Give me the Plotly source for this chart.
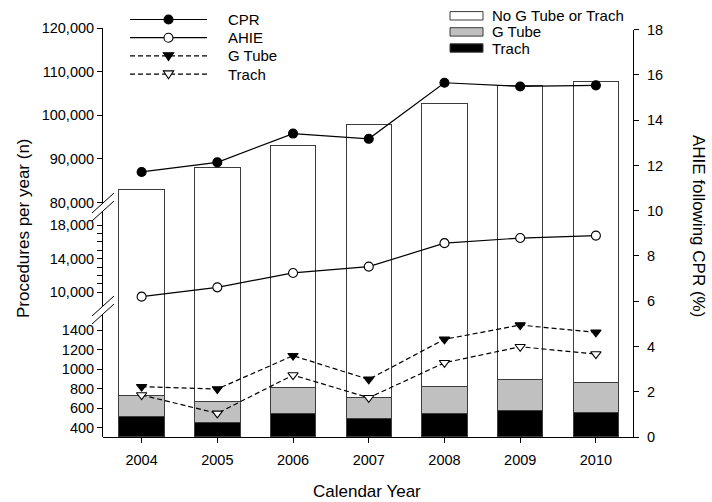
import plotly.graph_objects as go

# ---------------- data ----------------
years = [2004, 2005, 2006, 2007, 2008, 2009, 2010]

# procedures per year (left, broken axis)
cpr_n = [87000, 89200, 95800, 94600, 107450, 106600, 106850]
ahie_n = [9480, 10590, 12300, 13050, 15840, 16450, 16740]
g_tube_n = [820, 796, 1137, 895, 1305, 1451, 1376]
trach_n = [735, 547, 939, 707, 1065, 1229, 1154]

# AHIE following CPR (%) split by procedure (right axis, stacked bars)
trach_pct = [0.89, 0.66, 1.02, 0.80, 1.02, 1.17, 1.08]
g_tube_pct = [0.93, 0.89, 1.17, 0.96, 1.19, 1.38, 1.34]
ahie_pct = [10.96, 11.90, 12.88, 13.82, 14.72, 15.53, 15.69]
no_tube_pct = [round(a - t - g, 2) for a, t, g in zip(ahie_pct, trach_pct, g_tube_pct)]

# tick values for each piece of the broken left axis
top_ticks = [80000, 90000, 100000, 110000, 120000]
mid_ticks = [10000, 14000, 18000]
mid_minor = [11000, 12000, 13000, 15000, 16000, 17000]
low_ticks = [400, 600, 800, 1000, 1200, 1400]
right_ticks = [0, 2, 4, 6, 8, 10, 12, 14, 16, 18]

# ---------------- layout geometry (pixels) ----------------
W, H = 712, 502
PL, PR, PT, PB = 103, 633, 28, 437
FONT = "Arial, 'Liberation Sans', sans-serif"


def fx(px):
    return (px - PL) / (PR - PL)


def fy(py):
    return (PB - py) / (PB - PT)


top_dom = [fy(203), 1.0]
mid_dom = [fy(306), fy(211)]
low_dom = [0.0, fy(314)]
right_dom = [0.0, fy(29.7)]

# ---------------- styles ----------------
bar_styles = {
    "Trach": "#000000",
    "G Tube": "#c0c0c0",
    "No G Tube or Trach": "#ffffff",
}
BAR_EDGE = "#3c3c3c"

line_styles = {
    "CPR": dict(dash="solid", symbol="circle", fill="black"),
    "AHIE": dict(dash="solid", symbol="circle", fill="white"),
    "G Tube": dict(dash="5px,3px", symbol="triangle-down", fill="black"),
    "Trach": dict(dash="5px,3px", symbol="triangle-down", fill="white"),
}

fig = go.Figure()

# stacked percentage bars on the right axis
for name, vals in [("Trach", trach_pct), ("G Tube", g_tube_pct),
                   ("No G Tube or Trach", no_tube_pct)]:
    fig.add_trace(go.Bar(
        x=years, y=vals, name=name, width=0.6, xaxis="x", yaxis="y",
        marker=dict(color=bar_styles[name], line=dict(color=BAR_EDGE, width=1)),
        showlegend=False,
    ))

# count lines on the broken left axis
for name, vals, ax in [("G Tube", g_tube_n, "y2"), ("Trach", trach_n, "y2"),
                       ("AHIE", ahie_n, "y3"), ("CPR", cpr_n, "y4")]:
    st = line_styles[name]
    fig.add_trace(go.Scatter(
        x=years, y=vals, name=name, mode="lines+markers", xaxis="x", yaxis=ax,
        line=dict(color="black", width=1.2, dash=st["dash"]),
        marker=dict(symbol=st["symbol"], size=9, color=st["fill"],
                    line=dict(color="black", width=1.1)),
        showlegend=False,
    ))

axis_common = dict(
    showline=True, linecolor="black", linewidth=1,
    ticks="outside", ticklen=5, tickwidth=1, tickcolor="black",
    showgrid=False, zeroline=False,
    tickfont=dict(family=FONT, size=14.5, color="black"),
)

fig.update_layout(
    width=W, height=H,
    margin=dict(l=PL, r=W - PR, t=PT, b=H - PB, autoexpand=False),
    paper_bgcolor="white", plot_bgcolor="rgba(0,0,0,0)",
    barmode="stack", showlegend=False,
    font=dict(family=FONT, color="black"),
    xaxis=dict(domain=[0, 1], range=[2003.49, 2010.49], anchor="y",
               tickvals=years, ticklabelstandoff=5, **axis_common),
    yaxis=dict(domain=right_dom, range=[0, 18], side="right", anchor="x",
               tickvals=right_ticks, ticklabelstandoff=5, **axis_common),
    yaxis2=dict(domain=low_dom, range=[305, 1564], side="left", anchor="x",
                tickvals=low_ticks, tickformat="d", **axis_common),
    yaxis3=dict(domain=mid_dom, range=[8371, 19664], side="left", anchor="x",
                tickvals=mid_ticks, tickformat=",",
                minor=dict(tickvals=mid_minor, ticks="outside", ticklen=5,
                           tickcolor="black", showgrid=False),
                **axis_common),
    yaxis4=dict(domain=top_dom, range=[79885, 120000], side="left", anchor="x",
                tickvals=top_ticks, tickformat=",", **axis_common),
)

shapes = []
annotations = []

# axis-break marks on the left axis
for y_hi, y_lo in [(203, 211), (306, 314)]:
    for yc in (y_hi, y_lo):
        shapes.append(dict(type="line", xref="paper", yref="paper",
                           x0=fx(92), y0=fy(yc + 10), x1=fx(114), y1=fy(yc - 10),
                           line=dict(color="black", width=1)))

# legend for the count lines
LX0, LX1, LMK, LTX = 130, 207, 168.5, 226
for i, name in enumerate(["CPR", "AHIE", "G Tube", "Trach"]):
    st = line_styles[name]
    yc = 19.5 + 18.2 * i
    shapes.append(dict(type="line", xref="paper", yref="paper",
                       x0=fx(LX0), x1=fx(LX1), y0=fy(yc), y1=fy(yc),
                       line=dict(color="black", width=1.2, dash=st["dash"])))
    if st["symbol"] == "circle":
        r = 4.5
        shapes.append(dict(type="circle", xref="paper", yref="paper",
                           x0=fx(LMK - r), x1=fx(LMK + r), y0=fy(yc + r), y1=fy(yc - r),
                           fillcolor=st["fill"], line=dict(color="black", width=1.1)))
    else:
        path = (f"M {fx(LMK - 5.2)},{fy(yc - 3.2)} L {fx(LMK + 5.2)},{fy(yc - 3.2)} "
                f"L {fx(LMK)},{fy(yc + 4.6)} Z")
        shapes.append(dict(type="path", xref="paper", yref="paper", path=path,
                           fillcolor=st["fill"], line=dict(color="black", width=1.1)))
    annotations.append(dict(text=name, x=fx(LTX), y=fy(yc), xref="paper", yref="paper",
                            xanchor="left", yanchor="middle", showarrow=False,
                            font=dict(family=FONT, size=15, color="black")))

# legend for the stacked bars
BX0, BX1, BTX = 450, 483, 490
for i, name in enumerate(["No G Tube or Trach", "G Tube", "Trach"]):
    yc = 15.8 + 16.1 * i
    shapes.append(dict(type="rect", xref="paper", yref="paper",
                       x0=fx(BX0), x1=fx(BX1), y0=fy(yc + 4.2), y1=fy(yc - 4.2),
                       fillcolor=bar_styles[name], line=dict(color=BAR_EDGE, width=1)))
    annotations.append(dict(text=name, x=fx(BTX), y=fy(yc), xref="paper", yref="paper",
                            xanchor="left", yanchor="middle", showarrow=False,
                            font=dict(family=FONT, size=15, color="black")))

# axis titles
title_font = dict(family=FONT, size=17, color="black")
annotations.append(dict(text="Procedures per year (n)", x=fx(23), y=fy(228),
                        xref="paper", yref="paper", textangle=-90, showarrow=False,
                        xanchor="center", yanchor="middle", font=title_font))
annotations.append(dict(text="AHIE following CPR (%)", x=fx(699), y=fy(226),
                        xref="paper", yref="paper", textangle=90, showarrow=False,
                        xanchor="center", yanchor="middle", font=title_font))
annotations.append(dict(text="Calendar Year", x=fx(367), y=fy(491),
                        xref="paper", yref="paper", showarrow=False,
                        xanchor="center", yanchor="middle", font=title_font))

fig.update_layout(shapes=shapes, annotations=annotations)

fig.write_html("out.html")
